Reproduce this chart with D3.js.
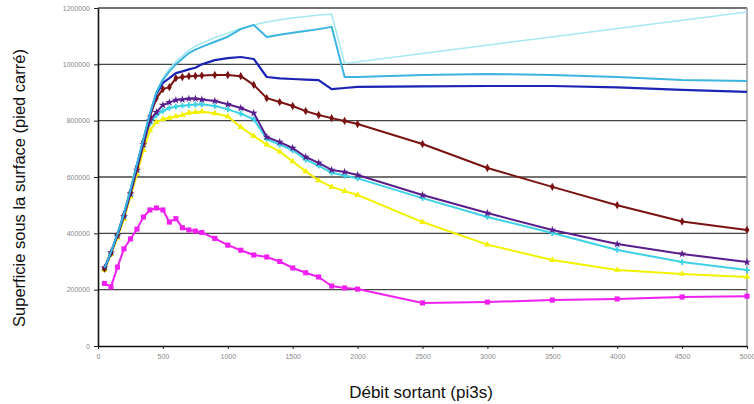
<!DOCTYPE html>
<html>
<head>
<meta charset="utf-8">
<script src="https://cdn.jsdelivr.net/npm/d3@7"></script>
<style>
  body { margin: 0; background: #fff; }
  svg { display: block; font-family: "Liberation Sans", Arial, sans-serif; }
</style>
</head>
<body>
<svg width="754" height="404"></svg>
<script>
// Débits (pi3s)
const debits = [50, 100, 150, 200, 250, 300, 350, 400, 450, 500, 550, 600, 650, 700, 750, 800, 900,
    1000, 1100, 1200, 1300, 1400, 1500, 1600, 1700, 1800, 1900, 2000, 2500, 3000, 3500, 4000, 4500, 5000];

// Superficies (milliers de pieds carrés), null = pas de point
const serieCyanPale = [280, 335, 400, 475, 560, 650, 740, 830, 905, 950, 985, 1010, 1030, 1050, 1065, 1075, 1095,
    1110, 1128, 1140, 1150, 1158, 1165, 1170, 1175, 1178, 1003, null, null, null, null, null, null, 1186];
const serieCyan = [278, 333, 398, 470, 555, 645, 735, 825, 900, 945, 975, 1000, 1020, 1040, 1052, 1062, 1080,
    1098, 1125, 1140, 1097, 1105, 1112, 1118, 1125, 1133, 955, 955, 962, 966, 962, 955, 944, 941];
const serieBleu = [276, 332, 396, 468, 550, 640, 730, 820, 895, 934, 951, 969, 975, 982, 988, 1000, 1015,
    1022, 1026, 1019, 955, 950, 948, 946, 944, 912, 916, 920, 922, 923, 923, 918, 909, 902];
const serieMarron = [275, 330, 394, 465, 545, 635, 725, 815, 880, 912, 919, 951, 955, 958, 959, 960, 962,
    962, 958, 927, 880, 866, 852, 834, 820, 809, 799, 788, 717, 632, 565, 500, 442, 412];
const serieViolet = [278, 332, 392, 460, 540, 625, 715, 800, 830, 855, 865, 873, 875, 878, 878, 875, 870,
    858, 845, 827, 742, 724, 703, 671, 650, 625, 618, 607, 536, 472, 412, 362, 327, 298];
const serieTurquoise = [272, 328, 390, 458, 535, 620, 708, 790, 820, 835, 845, 850, 853, 855, 857, 858, 852,
    840, 825, 805, 735, 715, 695, 662, 640, 615, 605, 595, 525, 458, 401, 341, 298, 270];
const serieJaune = [270, 325, 385, 450, 530, 610, 695, 765, 795, 805, 810, 815, 820, 828, 830, 832, 826,
    815, 777, 745, 715, 690, 655, 620, 588, 565, 550, 536, 440, 360, 305, 270, 256, 245];
const serieMagenta = [222, 210, 280, 345, 380, 415, 458, 483, 490, 483, 440, 452, 420, 412, 408, 403, 382,
    358, 340, 323, 316, 300, 277, 260, 245, 213, 206, 202, 153, 156, 163, 167, 174, 177];

const ticksX = [0, 500, 1000, 1500, 2000, 2500, 3000, 3500, 4000, 4500, 5000];
const ticksY = [0, 200000, 400000, 600000, 800000, 1000000, 1200000];

const series = [
    { valeurs: serieCyanPale, couleur: "#a8e8f2", symbole: null, taille: 0, largeur: 1.6 },
    { valeurs: serieTurquoise, couleur: "#3cd2e6", symbole: d3.symbolCross, taille: 18, largeur: 2 },
    { valeurs: serieJaune, couleur: "#f2f200", symbole: d3.symbolTriangle, taille: 18, largeur: 2 },
    { valeurs: serieViolet, couleur: "#5a1e8c", symbole: d3.symbolStar, taille: 20, largeur: 2 },
    { valeurs: serieMarron, couleur: "#7a1212", symbole: d3.symbolDiamond, taille: 20, largeur: 2 },
    { valeurs: serieBleu, couleur: "#1c24b4", symbole: null, taille: 0, largeur: 2.2 },
    { valeurs: serieCyan, couleur: "#3cb4e0", symbole: null, taille: 0, largeur: 2 },
    { valeurs: serieMagenta, couleur: "#f020f0", symbole: d3.symbolSquare, taille: 26, largeur: 2 }
];

const svg = d3.select("svg");
const zone = { gauche: 98, droite: 747, haut: 8, bas: 346 };

const scaleX = d3.scaleLinear().domain([0, 5000]).range([zone.gauche, zone.droite]);
const scaleY = d3.scaleLinear().domain([0, 1200000]).range([zone.bas, zone.haut]);

// Grille horizontale
svg.append("g")
    .selectAll("line")
    .data(ticksY.filter(d => d > 0))
    .enter()
    .append("line")
    .attr("x1", zone.gauche)
    .attr("x2", zone.droite)
    .attr("y1", d => scaleY(d))
    .attr("y2", d => scaleY(d))
    .attr("stroke", "#444")
    .attr("stroke-width", 1.3);

// Bord droit
svg.append("line")
    .attr("x1", zone.droite).attr("x2", zone.droite)
    .attr("y1", zone.haut).attr("y2", zone.bas)
    .attr("stroke", "#999").attr("stroke-width", 1.5);

// Axes
const axeX = svg.append("g")
    .attr("transform", `translate(0, ${zone.bas})`)
    .call(d3.axisBottom(scaleX).tickValues(ticksX).tickFormat(d3.format("d"))
        .tickSize(3).tickSizeOuter(0).tickPadding(5));
const axeY = svg.append("g")
    .attr("transform", `translate(${zone.gauche}, 0)`)
    .call(d3.axisLeft(scaleY).tickValues(ticksY).tickFormat(d3.format("d"))
        .tickSize(4).tickSizeOuter(0).tickPadding(4));

[axeX, axeY].forEach(axe => {
    axe.select(".domain").attr("stroke", "#111").attr("stroke-width", 1.6);
    axe.selectAll(".tick line").attr("stroke", "#222");
    axe.selectAll("text").attr("fill", "#888").style("font-size", "7px");
});

// Courbes
const ligne = d3.line()
    .x(d => scaleX(d.x))
    .y(d => scaleY(d.y * 1000));

series.forEach(s => {
    const points = debits
        .map((x, i) => ({ x: x, y: s.valeurs[i] }))
        .filter(d => d.y !== null);

    svg.append("path")
        .datum(points)
        .attr("fill", "none")
        .attr("stroke", s.couleur)
        .attr("stroke-width", s.largeur)
        .attr("stroke-linejoin", "round")
        .attr("d", ligne);

    if (s.symbole) {
        svg.append("g")
            .selectAll("path")
            .data(points)
            .enter()
            .append("path")
            .attr("transform", d => `translate(${scaleX(d.x)}, ${scaleY(d.y * 1000)})`)
            .attr("d", d3.symbol().type(s.symbole).size(s.taille))
            .attr("fill", s.couleur);
    }
});

// Titres des axes
svg.append("text")
    .attr("x", 421)
    .attr("y", 398)
    .attr("text-anchor", "middle")
    .style("font-size", "17px")
    .attr("fill", "#111")
    .text("Débit sortant (pi3s)");

svg.append("text")
    .attr("transform", "translate(25, 188) rotate(-90)")
    .attr("text-anchor", "middle")
    .style("font-size", "16.5px")
    .attr("fill", "#111")
    .text("Superficie sous la surface (pied carré)");
</script>
</body>
</html>
